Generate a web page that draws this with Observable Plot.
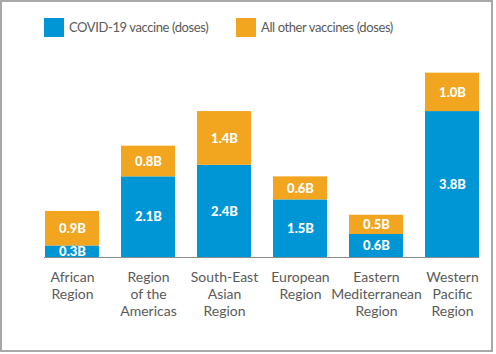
<!DOCTYPE html>
<html>
<head>
<meta charset="utf-8">
<script src="https://cdn.jsdelivr.net/npm/d3@7"></script>
<script src="https://cdn.jsdelivr.net/npm/@observablehq/plot@0.6"></script>
<style>
  html, body { margin: 0; padding: 0; background: #fff; }
  #frame { position: relative; width: 496px; height: 354px; overflow: hidden; font-family: Lato, "Noto Sans", sans-serif; }
  #border { position: absolute; left: 0; top: 0; width: 493px; height: 352px; box-sizing: border-box; border: 2px solid #a8a8a8; pointer-events: none; }
  #legend { position: absolute; left: 0; top: 0; width: 496px; height: 50px; }
  .sw { position: absolute; top: 18px; width: 20px; height: 19px; }
  .lt { position: absolute; top: 18px; line-height: 19px; font-size: 13px; letter-spacing: -0.4px; color: #5a5a5a; white-space: nowrap; }
  #chart { position: absolute; left: 0; top: 50px; }
</style>
</head>
<body>
<div id="frame">
  <div id="legend"></div>
  <div id="chart"></div>
  <div id="border"></div>
</div>
<script>
const regions = ["African\nRegion", "Region\nof the\nAmericas", "South-East\nAsian\nRegion", "European\nRegion", "Eastern\nMediterranean\nRegion", "Western\nPacific\nRegion"];
const covid = [0.3, 2.1, 2.4, 1.5, 0.6, 3.8];
const other = [0.9, 0.8, 1.4, 0.6, 0.5, 1.0];
const seriesNames = ["COVID-19 vaccine (doses)", "All other vaccines (doses)"];
const seriesColors = ["#0096d6", "#f2a51e"];

const rows = regions.flatMap((r, i) => [
  {region: r, series: seriesNames[0], value: covid[i]},
  {region: r, series: seriesNames[1], value: other[i]}
]);

// legend
const legend = document.getElementById("legend");
const legendX = [[44, 69], [236, 261]];
seriesNames.forEach((s, i) => {
  const sw = document.createElement("div");
  sw.className = "sw";
  sw.style.left = legendX[i][0] + "px";
  sw.style.background = seriesColors[i];
  legend.appendChild(sw);
  const t = document.createElement("div");
  t.className = "lt";
  t.style.left = legendX[i][1] + "px";
  t.textContent = s;
  legend.appendChild(t);
});

const chart = Plot.plot({
  width: 496,
  height: 304,
  marginLeft: 44,
  marginRight: 17,
  marginTop: 15,
  marginBottom: 97,
  style: {fontFamily: "Lato, 'Noto Sans', sans-serif", color: "#5a5a5a", background: "transparent"},
  x: {domain: regions, paddingInner: 0.29, paddingOuter: 0, label: null},
  y: {domain: [0, 5], axis: null},
  color: {domain: seriesNames, range: seriesColors},
  marks: [
    Plot.barY(rows, {x: "region", y: "value", fill: "series"}),
    Plot.text(rows, Plot.stackY({x: "region", y: "value", z: "series", text: d => d.value.toFixed(1) + "B", fill: "white", fontWeight: "900", fontSize: 13})),
    Plot.ruleY([0], {stroke: "#8c8c8c"}),
    Plot.axisX({tickSize: 0, tickPadding: 13, fontSize: 14, lineHeight: 1.19, label: null})
  ]
});
document.getElementById("chart").appendChild(chart);
</script>
</body>
</html>
